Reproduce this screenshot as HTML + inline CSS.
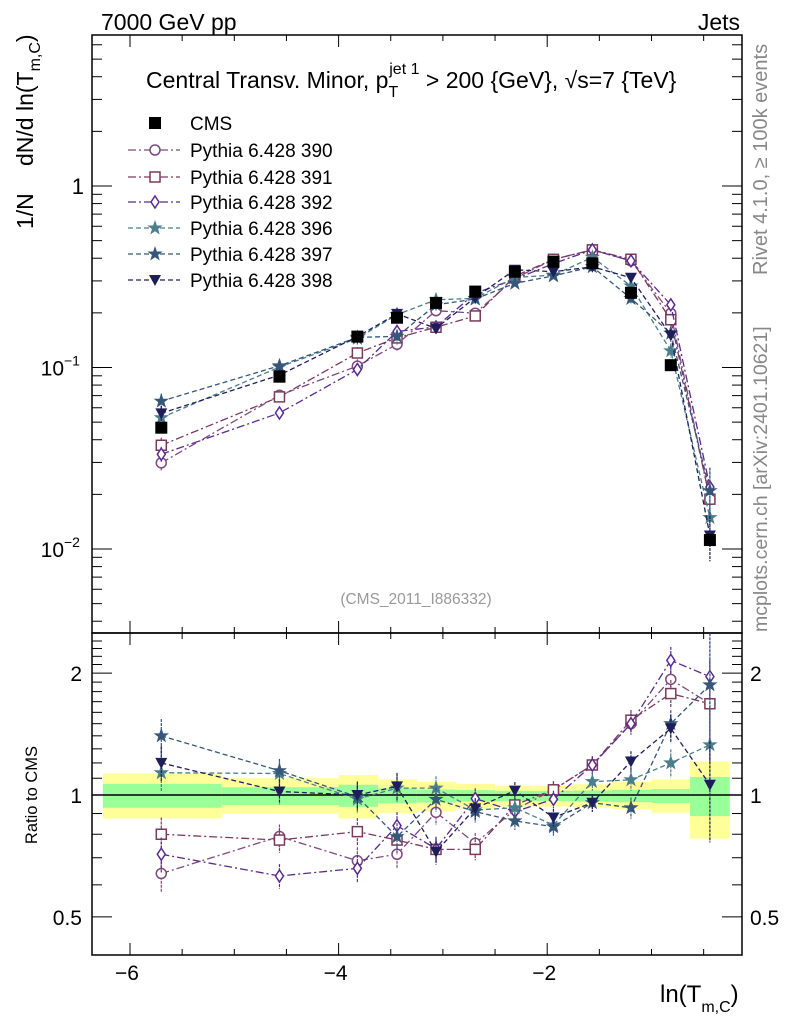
<!DOCTYPE html>
<html><head><meta charset="utf-8">
<style>
html,body{margin:0;padding:0;background:#fff;}
svg{display:block;font-family:"Liberation Sans",sans-serif;}
</style></head>
<body>
<svg id="chart" width="786" height="1024" viewBox="0 0 786 1024" xmlns="http://www.w3.org/2000/svg">
  <rect x="0" y="0" width="786" height="1024" fill="#fff"/>
  <g id="bands"></g>
  <g id="axes"></g>
  <g id="series"></g>
  <text x="101" y="30" font-size="23">7000 GeV pp</text>
  <text x="740" y="30" font-size="23" text-anchor="end">Jets</text>
  <text x="146" y="88" font-size="23">Central Transv. Minor, p<tspan font-size="16" dy="9">T</tspan><tspan font-size="16" dx="-9" dy="-23">jet 1</tspan><tspan dy="14"> &gt; 200 {GeV}, √s=7 {TeV}</tspan></text>
  <text transform="translate(33,229) rotate(-90)" font-size="23">1/N</text>
  <text transform="translate(33,166) rotate(-90)" font-size="23">dN/d ln(T<tspan font-size="16" dy="7">m,C</tspan><tspan dy="-7">)</tspan></text>
  <text transform="translate(767,275) rotate(-90)" font-size="20" fill="#888">Rivet 4.1.0, ≥ 100k events</text>
  <text transform="translate(767,632) rotate(-90)" font-size="19.5" fill="#888">mcplots.cern.ch [arXiv:2401.10621]</text>
  <text x="416" y="604" font-size="15.5" fill="#999" text-anchor="middle">(CMS_2011_I886332)</text>
  <text transform="translate(37,795) rotate(-90)" font-size="16.5" text-anchor="middle">Ratio to CMS</text>
  <text x="660" y="1002" font-size="24">ln(T<tspan font-size="16" dy="10">m,C</tspan><tspan dy="-10">)</tspan></text>
  <g id="legend"></g>
</svg>
<script>
const binCenters=[-5.70,-4.567,-3.82,-3.44,-3.066,-2.69,-2.31,-1.94,-1.567,-1.197,-0.815,-0.44];
const binEdges=[-6.26,-5.12,-4.0,-3.62,-3.25,-2.875,-2.5,-2.12,-1.75,-1.38,-1.0,-0.63,-0.25];
const cmsValues=[0.0466,0.089,0.148,0.188,0.227,0.262,0.337,0.383,0.375,0.258,0.103,0.0112];
const yellowUp=[1.13,1.10,1.12,1.093,1.077,1.065,1.054,1.054,1.063,1.077,1.093,1.21];
const yellowDn=[0.875,0.90,0.875,0.903,0.911,0.925,0.936,0.936,0.93,0.923,0.904,0.78];
const greenUp=[1.065,1.045,1.06,1.039,1.031,1.028,1.024,1.024,1.026,1.03,1.035,1.108];
const greenDn=[0.93,0.945,0.935,0.954,0.958,0.964,0.966,0.966,0.963,0.96,0.955,0.887];
const ratio390=[0.64,0.79,0.688,0.714,0.906,0.76,0.92,1.03,1.186,1.50,1.93,1.68];
const ratio391=[0.80,0.774,0.812,0.774,0.734,0.734,0.945,1.03,1.186,1.53,1.78,1.68];
const ratio392=[0.714,0.631,0.659,0.84,0.737,0.98,0.91,0.976,1.186,1.50,2.15,1.96];
const ratio396=[1.135,1.13,0.977,1.04,1.04,0.918,0.93,0.843,1.079,1.09,1.20,1.33];
const ratio397=[1.40,1.148,0.99,0.789,0.976,0.91,0.863,0.835,0.957,0.93,1.50,1.87];
const ratio398=[1.20,1.02,1.0,1.05,0.724,0.927,1.025,0.88,0.957,1.21,1.46,1.06];
const relErr=[0.1,0.07,0.08,0.08,0.07,0.06,0.05,0.05,0.05,0.06,0.08,0.28];
const seriesNames=["Pythia 6.428 390","Pythia 6.428 391","Pythia 6.428 392","Pythia 6.428 396","Pythia 6.428 397","Pythia 6.428 398"];
const seriesRatios=[ratio390,ratio391,ratio392,ratio396,ratio397,ratio398];
const mainTickLabels=["1","10","10"];
const ratioTickValues=[0.5,1,2];
const xTickValues=[-6,-4,-2];

const NS="http://www.w3.org/2000/svg";
const L=92,R=742,T=35,MB=633,RB=955;
const xPix=v=>130+(v+6)*104.3;
const yMain=v=>186-181.5*Math.log10(v);
const yRat=v=>795-405*Math.log10(v);
function el(tag,attrs,parent){const e=document.createElementNS(NS,tag);for(const k in attrs)e.setAttribute(k,attrs[k]);parent.appendChild(e);return e;}
const bands=document.getElementById('bands'),axes=document.getElementById('axes'),ser=document.getElementById('series'),leg=document.getElementById('legend');

for(let i=0;i<cmsValues.length;i++){
  const x0=Math.max(L+1,xPix(binEdges[i])),x1=Math.min(R-1,xPix(binEdges[i+1]));
  const yb=el('rect',{x:x0,y:yRat(yellowUp[i]),width:x1-x0,height:yRat(yellowDn[i])-yRat(yellowUp[i]),fill:'#ffff99'},bands);
  
  
  const gb=el('rect',{x:x0,y:yRat(greenUp[i]),width:x1-x0,height:yRat(greenDn[i])-yRat(greenUp[i]),fill:'#99ff99'},bands);
  
  
}
const f1=el('rect',{x:L,y:T,width:R-L,height:MB-T,fill:'none',stroke:'#000','stroke-width':1.5},axes);


const f2=el('rect',{x:L,y:MB,width:R-L,height:RB-MB,fill:'none',stroke:'#000','stroke-width':1.5},axes);


el('line',{x1:L,x2:R,y1:yRat(1),y2:yRat(1),stroke:'#000','stroke-width':1.5},axes);
for(let d=-3;d<=0;d++){for(let m=1;m<=9;m++){const v=m*Math.pow(10,d);const y=yMain(v);if(y<T||y>MB)continue;const len=m===1?20:10;
 el('line',{x1:L,x2:L+len,y1:y,y2:y,stroke:'#000'},axes);el('line',{x1:R,x2:R-len,y1:y,y2:y,stroke:'#000'},axes);}}
el('text',{x:84,y:yMain(1)+8,'font-size':22,'text-anchor':'end'},axes).textContent=mainTickLabels[0];
for(const [d,lab] of [[-1,mainTickLabels[1]],[-2,mainTickLabels[2]]]){
  const t=el('text',{x:64,y:yMain(Math.pow(10,d))+8,'font-size':21,'text-anchor':'end'},axes);t.textContent=lab;
  const s=el('text',{x:64,y:yMain(Math.pow(10,d))-2,'font-size':14},axes);s.textContent="−"+(-d);
}
for(let v=0.4;v<=2.5;v+=0.1){const y=yRat(v);if(y<MB||y>RB)continue;const maj=ratioTickValues.some(r=>Math.abs(r-v)<1e-6);const len=maj?20:10;
 el('line',{x1:L,x2:L+len,y1:y,y2:y,stroke:'#000'},axes);el('line',{x1:R,x2:R-len,y1:y,y2:y,stroke:'#000'},axes);}
for(const v of ratioTickValues){
 el('text',{x:82,y:yRat(v)+8,'font-size':21,'text-anchor':'end'},axes).textContent=String(v);
 el('text',{x:750,y:yRat(v)+8,'font-size':21,'fill':'#000'},axes).textContent=String(v);
}
for(let v=-6.5;v<=0;v+=0.5){const x=xPix(v);if(x<L||x>R)continue;const maj=Math.abs(v-Math.round(v))<1e-6&&Math.round(v)%2===0;const len=maj?12:6;
 for(const [yb,dir] of [[T,1],[MB,-1],[MB,1],[RB,-1]]) el('line',{x1:x,x2:x,y1:yb,y2:yb+dir*len,stroke:'#000'},axes);}
for(const v of xTickValues){el('text',{x:xPix(v)-3,y:980,'font-size':21,'text-anchor':'middle'},axes).textContent="−"+(-v);}

const colors=['#7e4a7e','#7a3a5c','#5a2a8e','#4a7e8a','#36567a','#1e1e5a'];
const dashes=['8,3,2,3','8,3,2,3','8,3,2,3','5,3','5,3','5,3'];
const markers=['circle','square','diamond','star','star','tri'];
function marker(type,x,y,c,g){
  if(type==='circle')return el('circle',{cx:x,cy:y,r:5,fill:'#fff',stroke:c,'stroke-width':1.5},g);
  if(type==='square')return el('rect',{x:x-5,y:y-5,width:10,height:10,fill:'#fff',stroke:c,'stroke-width':1.5},g);
  if(type==='diamond')return el('polygon',{points:`${x},${y-6} ${x+4},${y} ${x},${y+6} ${x-4},${y}`,fill:'#fff',stroke:c,'stroke-width':1.5},g);
  if(type==='star'){let p=[];for(let k=0;k<10;k++){const a=-Math.PI/2+k*Math.PI/5,r=k%2?2.6:6.5;p.push((x+r*Math.cos(a)).toFixed(1)+','+(y+r*Math.sin(a)).toFixed(1));}return el('polygon',{points:p.join(' '),fill:c,stroke:c,'stroke-width':1},g);}
  if(type==='tri')return el('polygon',{points:`${x-6},${y-5} ${x+6},${y-5} ${x},${y+6}`,fill:c},g);
  return el('rect',{x:x-6,y:y-6,width:12,height:12,fill:c},g);
}
seriesRatios.forEach((rat,si)=>{
  const c=colors[si];
  const g=el('g',{},ser);
  
  
  const mainPts=rat.map((r,i)=>[xPix(binCenters[i]),yMain(r*cmsValues[i])]);
  const ratPts=rat.map((r,i)=>[xPix(binCenters[i]),yRat(r)]);
  el('polyline',{points:mainPts.map(p=>p.join(',')).join(' '),fill:'none',stroke:c,'stroke-width':1.3,'stroke-dasharray':dashes[si]},g);
  el('polyline',{points:ratPts.map(p=>p.join(',')).join(' '),fill:'none',stroke:c,'stroke-width':1.3,'stroke-dasharray':dashes[si]},g);
  rat.forEach((r,i)=>{
    const x=xPix(binCenters[i]);const e=relErr[i];
    const v=r*cmsValues[i];
    el('line',{x1:x,x2:x,y1:yMain(v*(1+e)),y2:yMain(Math.max(v*(1-e),1e-4)),stroke:c,'stroke-width':1.2,'stroke-dasharray':'3,1'},g);
    el('line',{x1:x,x2:x,y1:yRat(r*(1+e)),y2:yRat(r*(1-e)),stroke:c,'stroke-width':1.2,'stroke-dasharray':'3,1'},g);
    const m1=marker(markers[si],x,yMain(v),c,g);
    
    
    const m2=marker(markers[si],x,yRat(r),c,g);
    
    
  });
});
const cg=el('g',{},ser);


cmsValues.forEach((v,i)=>{
  const m=marker('sq',xPix(binCenters[i]),yMain(v),'#000',cg);
  
  
});
const legY=[123,150,177,202,228,254,280];
const cl=el('rect',{x:149,y:legY[0]-6,width:12,height:12,fill:'#000'},leg);


el('text',{x:190,y:legY[0]+7,'font-size':19},leg).textContent='CMS';
seriesNames.forEach((n,i)=>{
  const y=legY[i+1];
  el('line',{x1:128,x2:180,y1:y,y2:y,stroke:colors[i],'stroke-width':1.3,'stroke-dasharray':dashes[i]},leg);
  const m=marker(markers[i],155,y,colors[i],leg);
  
  
  const t=el('text',{x:190,y:y+7,'font-size':19},leg);t.textContent=n;
  
  
});
</script>
</body></html>
